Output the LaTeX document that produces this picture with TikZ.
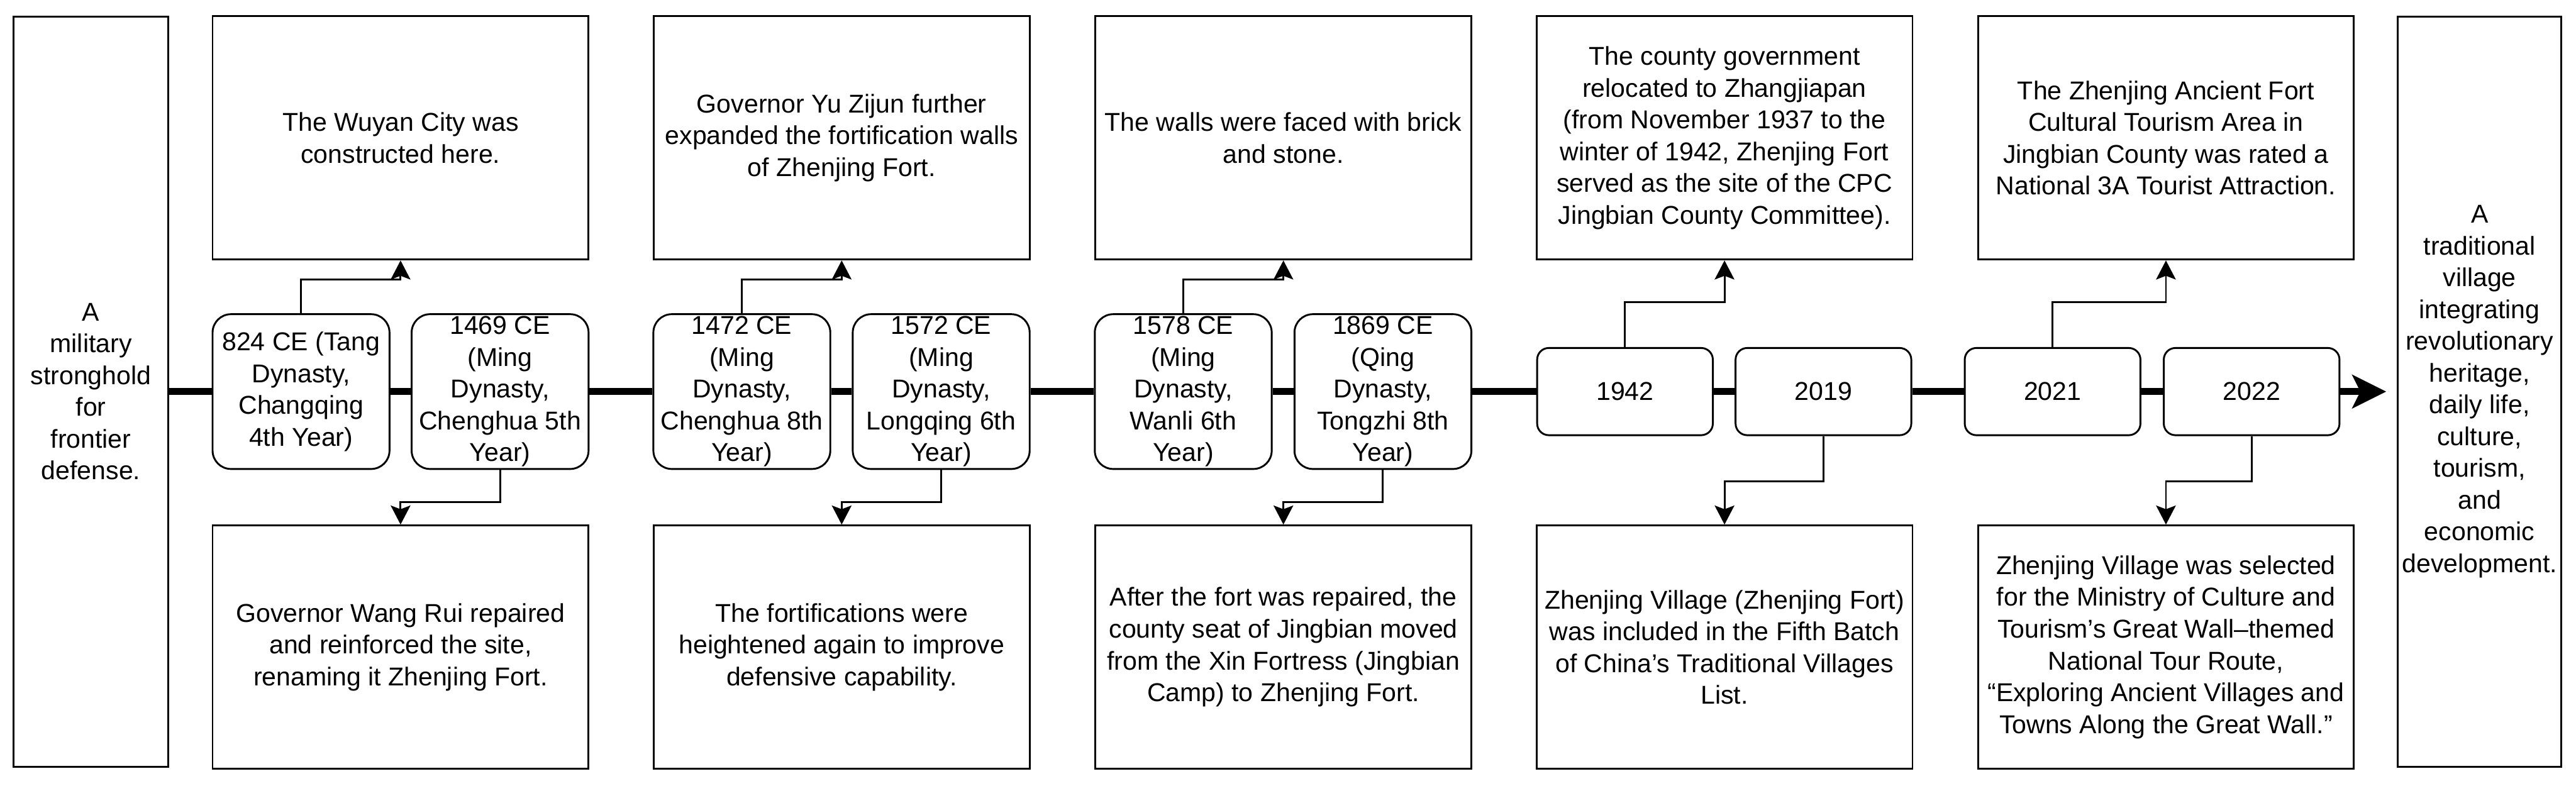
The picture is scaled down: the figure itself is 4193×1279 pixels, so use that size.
\documentclass[tikz,border=0pt]{standalone}
\usepackage{fontspec}
\setmainfont{Liberation Sans}
\usepackage{tikz}
\usetikzlibrary{positioning, arrows.meta, calc}
\usepackage{xcolor}
\definecolor{zjInk}{HTML}{000000}
\definecolor{zjPaper}{HTML}{FFFFFF}
\newcommand{\tlfont}{\fontsize{42}{51.7}\selectfont}

\begin{document}
\begin{tikzpicture}[x=1pt, y=-1pt,
    boxbase/.style={draw=zjInk, line width=3pt, fill=zjPaper, inner sep=0pt,
      align=center, font=\tlfont, text=zjInk},
    eventbox/.style={boxbase, minimum width=612pt, minimum height=396pt},
    sidebox/.style={boxbase, minimum height=1221pt},
    datebox/.style={boxbase, rounded corners=30pt, minimum width=288pt, minimum height=252pt},
    yearbox/.style={boxbase, rounded corners=19pt, minimum width=286pt, minimum height=142pt},
    link/.style={draw=zjInk, line width=3pt, -{Stealth[length=31pt, width=32pt, inset=6pt]}},
    timeline/.style={draw=zjInk, line width=11pt}]
  \useasboundingbox (0,0) rectangle (4193,1279);

  % start and end of the story
  \node[sidebox, minimum width=252pt] (start) at (148,637.5)
    {A\\military\\stronghold\\for\\frontier\\defense.};
  \node[sidebox, minimum width=266pt] (goal) at (4036,637.5)
    {A\\traditional\\village\\integrating\\revolutionary\\heritage,\\daily life,\\culture,\\tourism,\\and\\economic\\development.};

  % dates on the line
  \foreach \yr/\cx/\txt in {%
    824/490/{824 CE (Tang\\Dynasty,\\Changqing\\4th Year)},
    1469/814/{1469 CE\\(Ming\\Dynasty,\\Chenghua 5th\\Year)},
    1472/1207.5/{1472 CE\\(Ming\\Dynasty,\\Chenghua 8th\\Year)},
    1572/1532/{1572 CE\\(Ming\\Dynasty,\\Longqing 6th\\Year)},
    1578/1926/{1578 CE\\(Ming\\Dynasty,\\Wanli 6th\\Year)},
    1869/2251/{1869 CE\\(Qing\\Dynasty,\\Tongzhi 8th\\Year)}%
  } {
    \node[datebox] (y\yr) at (\cx,637.5) {\txt};
  }
  \foreach \yr/\cx in {1942/2645, 2019/2968, 2021/3341, 2022/3665} {
    \node[yearbox] (y\yr) at (\cx,637.5) {\yr};
  }

  % events above
  \foreach \yr/\cx/\txt in {%
    824/652/{The Wuyan City was\\constructed here.},
    1472/1370/{Governor Yu Zijun further\\expanded the fortification walls\\of Zhenjing Fort.},
    1578/2089/{The walls were faced with brick\\and stone.},
    1942/2807/{The county government\\relocated to Zhangjiapan\\(from November 1937 to the\\winter of 1942, Zhenjing Fort\\served as the site of the CPC\\Jingbian County Committee).},
    2021/3525.5/{The Zhenjing Ancient Fort\\Cultural Tourism Area in\\Jingbian County was rated a\\National 3A Tourist Attraction.}%
  } {
    \node[eventbox] (ev\yr) at (\cx,224.5) {\txt};
  }

  % events below
  \foreach \yr/\cx/\txt in {%
    1469/652/{Governor Wang Rui repaired\\and reinforced the site,\\renaming it Zhenjing Fort.},
    1572/1370/{The fortifications were\\heightened again to improve\\defensive capability.},
    1869/2089/{After the fort was repaired, the\\county seat of Jingbian moved\\from the Xin Fortress (Jingbian\\Camp) to Zhenjing Fort.},
    2019/2807/{Zhenjing Village (Zhenjing Fort)\\was included in the Fifth Batch\\of China’s Traditional Villages\\List.},
    2022/3525.5/{Zhenjing Village was selected\\for the Ministry of Culture and\\Tourism’s Great Wall–themed\\National Tour Route,\\“Exploring Ancient Villages and\\Towns Along the Great Wall.”}%
  } {
    \node[eventbox] (ev\yr) at (\cx,1053.5) {\txt};
  }

  % the time line
  \coordinate (arrowtip) at (3884,637.5);
  \foreach \a/\b in {start/y824, y824/y1469, y1469/y1472, y1472/y1572, y1572/y1578,
      y1578/y1869, y1869/y1942, y1942/y2019, y2019/y2021, y2021/y2022} {
    \draw[timeline] (\a) -- (\b);
  }
  \draw[timeline, -{Stealth[length=55pt, width=54pt, inset=13pt]}] (y2022) -- (arrowtip);

  % connectors
  \foreach \yr/\h in {824/-55, 1472/-55, 1578/-55, 1942/-73, 2021/-73} {
    \draw[link] (y\yr.north) -- ++(0,\h) -| (ev\yr.south);
  }
  \foreach \yr/\h in {1469/52, 1572/52, 1869/52, 2019/74, 2022/74} {
    \draw[link] (y\yr.south) -- ++(0,\h) -| (ev\yr.north);
  }
\end{tikzpicture}
\end{document}
